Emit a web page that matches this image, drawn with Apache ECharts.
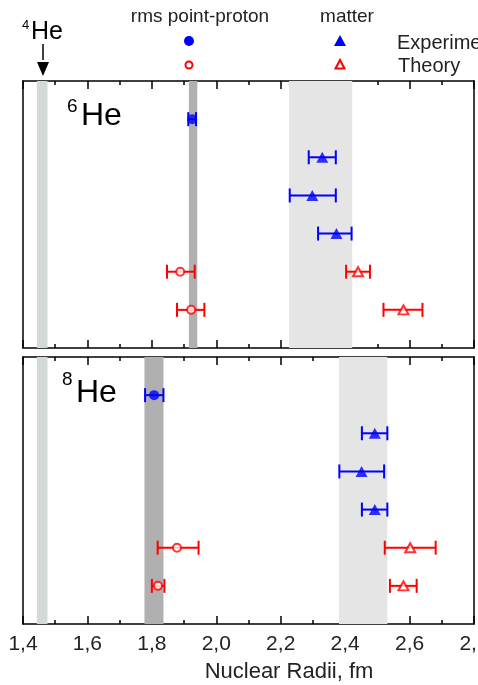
<!DOCTYPE html>
<html>
<head>
<meta charset="utf-8">
<script src="https://cdn.jsdelivr.net/npm/echarts@6/dist/echarts.min.js"></script>
<style>
body { margin: 0; background: #fff; }
#graph { width: 478px; height: 685px; }
#err { position: absolute; left: 60px; top: 200px; color: #c00; font: 12px sans-serif; width: 380px; }
</style>
</head>
<body>
<div id="graph"></div>
<div id="err"></div>
<script type="text/javascript">
window.onerror = function (msg) { document.getElementById('err').textContent += ' ERR: ' + msg; };

// x axis (fm)
var xMin = 1.4, xMax = 2.8, xStep = 0.2;

// shaded bands [from, to]
var he4Band = [1.443, 1.476];
var he6ProtonBand = [1.915, 1.941];
var he6MatterBand = [2.226, 2.422];
var he8ProtonBand = [1.777, 1.836];
var he8MatterBand = [2.381, 2.531];

// points: [value, row, errLow, errHigh]
var he6ExpProton = [[1.925, 1, 1.913, 1.937]];
var he6ExpMatter = [[2.329, 2, 2.287, 2.371], [2.298, 3, 2.228, 2.371], [2.373, 4, 2.316, 2.420]];
var he6ThProton = [[1.888, 5, 1.847, 1.933], [1.922, 6, 1.878, 1.963]];
var he6ThMatter = [[2.440, 5, 2.403, 2.477], [2.581, 6, 2.519, 2.640]];

var he8ExpProton = [[1.807, 1, 1.779, 1.836]];
var he8ExpMatter = [[2.492, 2, 2.452, 2.531], [2.451, 3, 2.382, 2.521], [2.492, 4, 2.452, 2.531]];
var he8ThProton = [[1.878, 5, 1.818, 1.945], [1.819, 6, 1.800, 1.839]];
var he8ThMatter = [[2.602, 5, 2.523, 2.681], [2.581, 6, 2.539, 2.622]];

var BLUE = '#0000ff', RED = '#ff0000';
var FONT = 'Liberation Sans';

function errBars(data, color, xi, yi) {
    return {
        type: 'custom',
        xAxisIndex: xi, yAxisIndex: yi,
        data: data,
        encode: { x: [0, 2, 3], y: 1 },
        z: 3,
        renderItem: function (params, api) {
            var row = api.value(1);
            var a = api.coord([api.value(2), row]);
            var b = api.coord([api.value(3), row]);
            var c = 7;
            var st = { stroke: color, lineWidth: 2, fill: null };
            return {
                type: 'group',
                children: [
                    { type: 'line', shape: { x1: a[0], y1: a[1], x2: b[0], y2: b[1] }, style: st },
                    { type: 'line', shape: { x1: a[0], y1: a[1] - c, x2: a[0], y2: a[1] + c }, style: st },
                    { type: 'line', shape: { x1: b[0], y1: b[1] - c, x2: b[0], y2: b[1] + c }, style: st }
                ]
            };
        }
    };
}

function marks(data, symbol, color, filled, xi, yi) {
    return {
        type: 'scatter',
        xAxisIndex: xi, yAxisIndex: yi,
        symbol: symbol,
        symbolSize: symbol == 'circle' ? (filled ? 10 : 8) : (filled ? [12, 11] : [10, 9]),
        data: data.map(function (d) { return [d[0], d[1]]; }),
        z: 4,
        itemStyle: filled ? { color: color } : { color: '#fff', borderColor: color, borderWidth: 2 }
    };
}

// full-height shaded strips, drawn through the axes
function bands(list, colors, xi, yi) {
    return {
        type: 'custom',
        xAxisIndex: xi, yAxisIndex: yi,
        data: list.map(function (b, i) { return [b[0], b[1], i]; }),
        encode: { x: [0, 1] },
        z: 1,
        silent: true,
        renderItem: function (params, api) {
            var p0 = api.coord([api.value(0), 0]);
            var p1 = api.coord([api.value(1), 7]);
            return {
                type: 'rect',
                shape: { x: p0[0], y: p0[1], width: p1[0] - p0[0], height: p1[1] - p0[1] },
                style: { fill: colors[api.value(2)] }
            };
        }
    };
}

function xAx(grid, pos, labels) {
    return {
        type: 'value', gridIndex: grid, position: pos,
        min: xMin, max: xMax, interval: xStep,
        axisLine: { show: true, onZero: false, lineStyle: { color: '#000', width: 1.5 } },
        axisTick: { show: true, inside: true, length: 8, lineStyle: { color: '#000', width: 1.5 } },
        minorTick: { show: true, splitNumber: 2, length: 4, lineStyle: { color: '#000', width: 1.5 } },
        splitLine: { show: false },
        axisLabel: {
            show: labels, margin: 10, color: '#222', fontSize: 21, fontFamily: FONT,
            formatter: function (v) { return v.toFixed(1).replace('.', ','); }
        }
    };
}

function yAx(grid, pos) {
    return {
        type: 'value', gridIndex: grid, position: pos,
        min: 0, max: 7, inverse: true,
        axisLine: { show: true, onZero: false, lineStyle: { color: '#000', width: 1.5 } },
        axisTick: { show: false }, axisLabel: { show: false }, splitLine: { show: false }
    };
}

var bandColors = ['#d3d9d9', '#b0b0b0', '#e5e5e5'];

var myChart = echarts.init(document.getElementById('graph'));

option = {
    backgroundColor: '#fff',
    animation: false,
    grid: [
        { left: 23, top: 81, width: 451, height: 267, outerBoundsMode: 'none' },
        { left: 23, top: 357, width: 451, height: 267, outerBoundsMode: 'none' }
    ],
    xAxis: [xAx(0, 'bottom', false), xAx(0, 'top', false), xAx(1, 'bottom', true), xAx(1, 'top', false)],
    yAxis: [yAx(0, 'left'), yAx(0, 'right'), yAx(1, 'left'), yAx(1, 'right')],
    series: [
        bands([he4Band, he6ProtonBand, he6MatterBand], bandColors, 0, 0),
        bands([he4Band, he8ProtonBand, he8MatterBand], bandColors, 2, 2),

        errBars(he6ExpProton, BLUE, 0, 0), marks(he6ExpProton, 'circle', BLUE, true, 0, 0),
        errBars(he6ExpMatter, BLUE, 0, 0), marks(he6ExpMatter, 'triangle', BLUE, true, 0, 0),
        errBars(he6ThProton, RED, 0, 0), marks(he6ThProton, 'circle', RED, false, 0, 0),
        errBars(he6ThMatter, RED, 0, 0), marks(he6ThMatter, 'triangle', RED, false, 0, 0),

        errBars(he8ExpProton, BLUE, 2, 2), marks(he8ExpProton, 'circle', BLUE, true, 2, 2),
        errBars(he8ExpMatter, BLUE, 2, 2), marks(he8ExpMatter, 'triangle', BLUE, true, 2, 2),
        errBars(he8ThProton, RED, 2, 2), marks(he8ThProton, 'circle', RED, false, 2, 2),
        errBars(he8ThMatter, RED, 2, 2), marks(he8ThMatter, 'triangle', RED, false, 2, 2)
    ],
    graphic: [
        // legend header
        { type: 'text', x: 200, y: 17, style: { text: 'rms point-proton', font: '19px ' + FONT, fill: '#222', align: 'center', verticalAlign: 'middle' } },
        { type: 'text', x: 347, y: 17, style: { text: 'matter', font: '19px ' + FONT, fill: '#222', align: 'center', verticalAlign: 'middle' } },
        { type: 'circle', shape: { cx: 189, cy: 41, r: 5 }, style: { fill: BLUE } },
        { type: 'circle', shape: { cx: 189, cy: 65, r: 3.5 }, style: { fill: '#fff', stroke: RED, lineWidth: 2 } },
        { type: 'polygon', shape: { points: [[340, 35], [346, 46], [334, 46]] }, style: { fill: BLUE } },
        { type: 'polygon', shape: { points: [[340, 60], [344.5, 68.5], [335.5, 68.5]] }, style: { fill: '#fff', stroke: RED, lineWidth: 2 } },
        { type: 'text', x: 397, y: 43, style: { text: 'Experiment', font: '20px ' + FONT, fill: '#222', verticalAlign: 'middle' } },
        { type: 'text', x: 398, y: 66, style: { text: 'Theory', font: '20px ' + FONT, fill: '#222', verticalAlign: 'middle' } },

        // 4He label and arrow
        { type: 'text', x: 22, y: 19, style: { text: '4', font: '13px ' + FONT, fill: '#000' } },
        { type: 'text', x: 31, y: 20, style: { text: 'He', font: '25px ' + FONT, fill: '#000' } },
        { type: 'line', shape: { x1: 43, y1: 44, x2: 43, y2: 60 }, style: { stroke: '#000', lineWidth: 1.5 } },
        { type: 'polygon', shape: { points: [[37, 62], [49, 62], [43, 76]] }, style: { fill: '#000' } },

        // panel labels
        { type: 'text', x: 67, y: 97, style: { text: '6', font: '19px ' + FONT, fill: '#000' } },
        { type: 'text', x: 81, y: 100, style: { text: 'He', font: '32px ' + FONT, fill: '#000' } },
        { type: 'text', x: 62, y: 370, style: { text: '8', font: '19px ' + FONT, fill: '#000' } },
        { type: 'text', x: 76, y: 377, style: { text: 'He', font: '32px ' + FONT, fill: '#000' } },

        // axis title
        { type: 'text', x: 289, y: 672, style: { text: 'Nuclear Radii, fm', font: '22px ' + FONT, fill: '#222', align: 'center', verticalAlign: 'middle' } }
    ]
};

try {
    myChart.setOption(option);
} catch (e) {
    document.getElementById('err').textContent += ' EXC: ' + e.message;
}
</script>
</body>
</html>
